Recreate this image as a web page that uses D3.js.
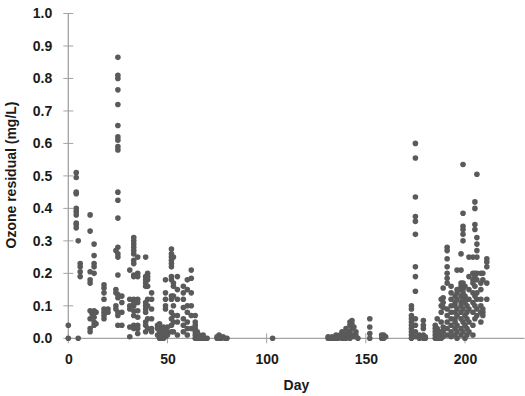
<!DOCTYPE html>
<html>
<head>
<meta charset="utf-8">
<script src="https://cdn.jsdelivr.net/npm/d3@7"></script>
<style>
  html, body { margin: 0; padding: 0; background: #fff; }
  svg { display: block; }
  text { font-family: "Liberation Sans", Arial, sans-serif; font-weight: bold; fill: #1a1a1a; }
</style>
</head>
<body>
<svg id="chart" width="525" height="396"></svg>
<script>
// ---- Data ----
// Period 1: days 0-103
const period1Days = [
  0,0,
  4,4,4,4,4,4,4,4,4,4,
  5,5,
  6,6,6,6,
  11,11,11,11,11,11,11,11,11,
  12,12,
  13,13,13,13,13,13,13,13,13,
  14,14,
  18,18,18,18,18,18,18,18,
  20,20,
  24,24,24,24,24,
  25,25,25,25,25,25,25,25,25,25,25,25,25,25,25,25,25,25,25,25,25,25,
  27,27,27,27,
  31,31,31,31,31,31,
  33,33,33,33,33,33,33,33,33,33,33,33,33,33,33,33,33,
  35,35,35,35,35,35,35,35,35,35,
  39,39,39,39,39,39,39,39,39,39,39,39,
  40,40,40,40,40,40,40,40,
  42,42,42,42,42,42,
  45,45,45,
  46,46,46,46,
  47,47,47,47,
  48,48,48,
  49,49,49,49,49,49,49,
  50,50,50,
  52,52,52,52,52,52,52,52,52,52,52,52,52,52,
  53,53,53,53,53,53,53,53,
  55,55,55,55,55,55,
  58,58,58,58,58,58,58,
  60,60,60,60,60,60,60,
  62,62,62,62,62,62,
  64,64,64,64,64,64,64,
  65,65,65,65,
  66,66,67,67,68,68,69,70,
  75,75,76,76,77,78,79,80,
  103
];
const period1Ozone = [
  0.0,0.04,
  0.51,0.495,0.45,0.445,0.40,0.39,0.38,0.355,0.35,0.34,
  0.30,0.0,
  0.23,0.22,0.205,0.19,
  0.38,0.33,0.205,0.18,0.17,0.085,0.06,0.03,0.02,
  0.08,0.075,
  0.29,0.255,0.23,0.22,0.20,0.085,0.065,0.05,0.04,
  0.08,0.045,
  0.165,0.155,0.14,0.12,0.09,0.08,0.07,0.06,
  0.09,0.08,
  0.27,0.15,0.14,0.10,0.09,
  0.865,0.81,0.80,0.765,0.72,0.655,0.62,0.61,0.59,0.58,0.45,0.425,0.37,0.28,0.26,0.25,0.195,0.135,0.125,0.08,0.07,0.04,
  0.13,0.11,0.08,0.04,
  0.21,0.12,0.10,0.09,0.035,0.005,
  0.31,0.30,0.29,0.28,0.27,0.26,0.24,0.23,0.195,0.19,0.12,0.11,0.10,0.085,0.07,0.04,0.03,
  0.25,0.20,0.19,0.12,0.11,0.085,0.065,0.04,0.03,0.015,
  0.25,0.19,0.18,0.17,0.16,0.11,0.10,0.09,0.08,0.05,0.04,0.02,
  0.20,0.19,0.18,0.16,0.12,0.10,0.06,0.03,
  0.14,0.12,0.09,0.06,0.03,0.02,
  0.04,0.03,0.01,
  0.045,0.02,0.005,0.0,
  0.03,0.01,0.0,0.005,
  0.035,0.015,0.0,
  0.18,0.14,0.12,0.10,0.09,0.025,0.005,
  0.035,0.02,0.01,
  0.275,0.26,0.25,0.24,0.23,0.22,0.19,0.18,0.13,0.12,0.08,0.06,0.04,0.02,
  0.25,0.17,0.16,0.13,0.10,0.07,0.05,0.02,
  0.19,0.15,0.12,0.07,0.05,0.01,
  0.16,0.14,0.12,0.095,0.06,0.04,0.02,
  0.18,0.15,0.10,0.08,0.05,0.03,0.01,
  0.21,0.185,0.14,0.10,0.07,0.03,
  0.07,0.05,0.04,0.03,0.02,0.01,0.0,
  0.02,0.01,0.005,0.0,
  0.01,0.0,0.005,0.0,0.01,0.0,0.0,0.0,
  0.0,0.005,0.01,0.0,0.0,0.005,0.0,0.0,
  0.0
];
// Period 2: days 130-160
const period2Days = [
  131,131,132,133,133,134,135,135,136,137,137,138,138,139,139,
  140,140,140,141,141,142,142,142,142,143,143,143,143,144,144,145,145,146,
  152,152,152,152,158,158,159,159,160
];
const period2Ozone = [
  0.0,0.005,0.0,0.005,0.0,0.0,0.01,0.0,0.0,0.005,0.01,0.0,0.02,0.01,0.0,
  0.03,0.0,0.015,0.02,0.01,0.05,0.04,0.0,0.02,0.055,0.045,0.03,0.01,0.035,0.005,0.02,0.01,0.0,
  0.06,0.035,0.015,0.0,0.01,0.0,0.0,0.01,0.005
];
// Period 3: days 170-212
const period3Days = [
  173,173,173,173,173,173,173,173,173,173,
  175,175,175,175,175,175,175,175,175,175,175,175,175,
  177,177,
  179,179,179,179,179,
  180,180,
  185,185,185,185,185,
  186,186,186,186,
  187,187,187,
  188,188,188,188,188,188,
  189,189,189,189,189,189,189,
  191,191,191,191,191,191,191,191,191,191,191,191,
  193,193,193,193,193,193,193,193,193,
  195,195,195,195,195,195,195,195,
  196,196,196,196,196,196,196,196,196,
  198,198,198,198,198,198,198,198,198,198,198,198,
  199,199,199,199,199,199,199,199,199,199,199,199,199,
  200,200,200,200,200,200,
  201,201,201,201,201,201,
  202,202,202,202,202,202,202,
  204,204,204,204,204,204,204,204,204,
  205,205,205,205,205,205,205,205,205,205,
  206,206,206,206,206,206,206,206,206,206,206,
  208,208,208,208,208,208,208,
  209,209,209,209,209,
  211,211,211,211,211
];
const period3Ozone = [
  0.10,0.09,0.07,0.06,0.05,0.04,0.03,0.02,0.01,0.0,
  0.60,0.555,0.435,0.375,0.36,0.32,0.22,0.19,0.145,0.06,0.04,0.02,0.005,
  0.0,0.01,
  0.055,0.04,0.03,0.01,0.0,
  0.0,0.005,
  0.04,0.03,0.02,0.01,0.0,
  0.06,0.03,0.005,0.0,
  0.0,0.01,0.02,
  0.12,0.10,0.08,0.05,0.02,0.0,
  0.155,0.125,0.11,0.095,0.035,0.02,0.005,
  0.28,0.27,0.245,0.22,0.20,0.185,0.17,0.09,0.07,0.05,0.03,0.01,
  0.16,0.14,0.12,0.10,0.08,0.06,0.04,0.02,0.005,
  0.13,0.11,0.10,0.08,0.06,0.05,0.03,0.01,
  0.21,0.15,0.14,0.12,0.09,0.07,0.04,0.02,0.0,
  0.26,0.21,0.17,0.16,0.15,0.13,0.11,0.10,0.08,0.06,0.03,0.01,
  0.535,0.385,0.345,0.335,0.32,0.30,0.17,0.15,0.14,0.12,0.09,0.05,0.02,
  0.16,0.13,0.11,0.07,0.04,0.0,
  0.12,0.10,0.08,0.06,0.03,0.01,
  0.25,0.19,0.15,0.12,0.09,0.05,0.02,
  0.25,0.20,0.18,0.17,0.14,0.11,0.08,0.04,0.01,
  0.42,0.40,0.35,0.335,0.20,0.19,0.16,0.13,0.10,0.06,
  0.505,0.31,0.29,0.27,0.25,0.20,0.18,0.14,0.12,0.09,0.07,
  0.20,0.17,0.15,0.12,0.10,0.08,0.05,
  0.20,0.18,0.09,0.08,0.07,
  0.245,0.235,0.22,0.17,0.12
];
const xTicks = [0, 50, 100, 150, 200];
const yTicks = [0, 0.1, 0.2, 0.3, 0.4, 0.5, 0.6, 0.7, 0.8, 0.9, 1.0];
const xTitle = "Day";
const yTitle = "Ozone residual (mg/L)";

// ---- Build point table ----
const points = [];
[[period1Days, period1Ozone], [period2Days, period2Ozone], [period3Days, period3Ozone]].forEach(([ds, vs]) => {
  ds.forEach((d, i) => points.push({ day: d, ozone: vs[i] }));
});

const svg = d3.select("#chart");
const x = d3.scaleLinear().domain([0, 230]).range([68.3, 524.5]);
const y = d3.scaleLinear().domain([0, 1]).range([338.3, 13.5]);
const axisColor = "#a3a3a3";

// Y axis
const yAxis = svg.append("g").attr("transform", `translate(${x(0)},0)`)
  .call(d3.axisLeft(y).tickValues(yTicks).tickSize(0).tickPadding(16).tickFormat(d3.format(".1f")));
yAxis.select(".domain").remove();
yAxis.selectAll("text").style("font-size", "14px").attr("fill", "#1a1a1a");
svg.append("g").selectAll("line").data(yTicks).join("line")
  .attr("x1", x(0) - 5).attr("x2", x(0) + 5)
  .attr("y1", d => y(d)).attr("y2", d => y(d))
  .attr("stroke", axisColor).attr("stroke-width", 1);
svg.append("line").attr("x1", x(0)).attr("x2", x(0)).attr("y1", y(1)).attr("y2", y(0))
  .attr("stroke", axisColor).attr("stroke-width", 1.3);

// X axis
const xAxis = svg.append("g").attr("transform", `translate(0,${y(0)})`)
  .call(d3.axisBottom(x).tickValues(xTicks).tickSize(0).tickPadding(16).tickFormat(d3.format("d")));
xAxis.select(".domain").remove();
xAxis.selectAll("text").style("font-size", "14px").attr("fill", "#1a1a1a");
svg.append("g").selectAll("line").data(xTicks).join("line")
  .attr("x1", d => x(d)).attr("x2", d => x(d))
  .attr("y1", y(0) - 5).attr("y2", y(0) + 5)
  .attr("stroke", axisColor).attr("stroke-width", 1);
svg.append("line").attr("x1", x(0)).attr("x2", x(230)).attr("y1", y(0)).attr("y2", y(0))
  .attr("stroke", axisColor).attr("stroke-width", 1.3);

// Points
svg.append("g").selectAll("circle").data(points).join("circle")
  .attr("cx", d => x(d.day)).attr("cy", d => y(d.ozone)).attr("r", 2.8)
  .attr("fill", "#5a5a5a");

// Titles
svg.append("text").attr("x", (x(0) + x(230)) / 2).attr("y", 390)
  .attr("text-anchor", "middle").style("font-size", "14px").text(xTitle);
svg.append("text").attr("transform", `translate(16,175) rotate(-90)`)
  .attr("text-anchor", "middle").style("font-size", "14px").text(yTitle);
</script>
</body>
</html>
